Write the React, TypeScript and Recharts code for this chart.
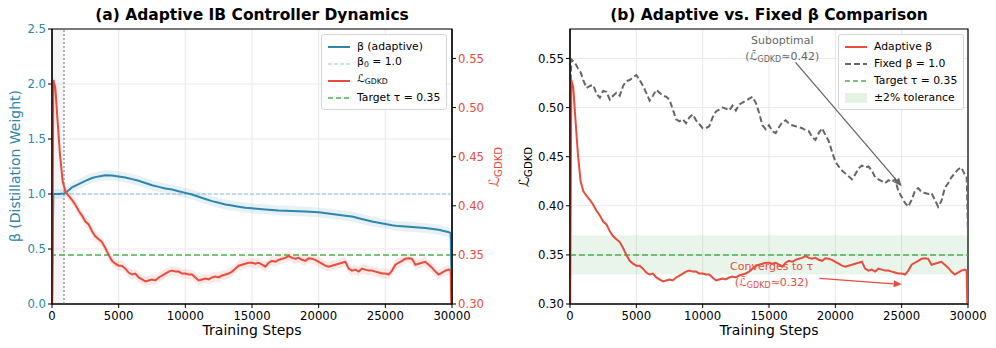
import React from 'react';
import {
  ComposedChart, Line, Area, XAxis, YAxis, CartesianGrid,
  ReferenceLine, ReferenceArea, ReferenceDot, Legend,
} from 'recharts';

const BLUE = '#2E86AB';
const RED = '#E74C3C';
const GREEN = '#4CAF50';
const GRAY = '#666666';
const LIGHTBLUE = '#8EC3DE';
const FONT = '"DejaVu Sans", Verdana, sans-serif';

const xTicks = [0, 5000, 10000, 15000, 20000, 25000, 30000];
const betaTicks = [0, 0.5, 1.0, 1.5, 2.0, 2.5];
const lossTicks = [0.30, 0.35, 0.40, 0.45, 0.50, 0.55];

const betaSteps = [0, 100, 500, 900, 1200, 1500, 2000, 2500, 3000, 3500, 4000, 4500, 5000, 5500, 6000, 6500, 7000, 7500, 8000, 8500, 9000, 9500, 10000, 10500, 11000, 11500, 12000, 12500, 13000, 13500, 14000, 14500, 15000, 16000, 17000, 18000, 19000, 20000, 21000, 22000, 22500, 23000, 24000, 25000, 25500, 26000, 27000, 28000, 29000, 29700, 29900, 30000];
const betaValues = [0, 1.0, 1.0, 1.005, 1.03, 1.06, 1.09, 1.12, 1.145, 1.16, 1.17, 1.168, 1.16, 1.15, 1.135, 1.12, 1.10, 1.08, 1.065, 1.05, 1.04, 1.025, 1.01, 0.995, 0.975, 0.955, 0.935, 0.92, 0.905, 0.895, 0.885, 0.875, 0.87, 0.86, 0.85, 0.845, 0.84, 0.833, 0.818, 0.803, 0.795, 0.78, 0.75, 0.727, 0.715, 0.708, 0.70, 0.69, 0.675, 0.655, 0.645, 0.0];

const lossSteps = [0, 100, 250, 400, 600, 800,
  1000, 1250, 1500, 1750, 2000, 2250, 2500, 2750, 3000, 3250, 3500, 3750, 4000, 4250, 4500, 4750,
  5000, 5250, 5500, 5750, 6000, 6250, 6500, 6750, 7000, 7250, 7500, 7750, 8000, 8250, 8500, 8750,
  9000, 9250, 9500, 9750, 10000, 10250, 10500, 10750, 11000, 11250, 11500, 11750, 12000, 12250, 12500, 12750,
  13000, 13250, 13500, 13750, 14000, 14250, 14500, 14750, 15000, 15250, 15500, 15750, 16000, 16250, 16500, 16750,
  17000, 17250, 17500, 17750, 18000, 18250, 18500, 18750, 19000, 19250, 19500, 19750, 20000, 20250, 20500, 20750,
  21000, 21250, 21500, 21750, 22000, 22250, 22500, 22750, 23000, 23250, 23500, 23750, 24000, 24250, 24500, 24750,
  25000, 25250, 25500, 25750, 26000, 26250, 26500, 26750, 27000, 27250, 27500, 27750, 28000, 28250, 28500, 28750,
  29000, 29250, 29500, 29750, 29900, 30000];

const adaptiveLoss = [0.26, 0.528, 0.52, 0.49, 0.452, 0.425,
  0.415, 0.410, 0.406, 0.401, 0.395, 0.390, 0.384, 0.381, 0.374, 0.369, 0.366, 0.363, 0.357, 0.350, 0.344, 0.341,
  0.339, 0.339, 0.336, 0.332, 0.330, 0.331, 0.327, 0.325, 0.323, 0.324, 0.325, 0.324, 0.327, 0.329, 0.331, 0.333,
  0.334, 0.333, 0.333, 0.331, 0.331, 0.330, 0.330, 0.327, 0.324, 0.325, 0.326, 0.325, 0.327, 0.328, 0.327, 0.329,
  0.330, 0.331, 0.333, 0.336, 0.339, 0.340, 0.341, 0.342, 0.342, 0.341, 0.342, 0.340, 0.338, 0.342, 0.344, 0.343,
  0.345, 0.346, 0.347, 0.349, 0.347, 0.346, 0.347, 0.345, 0.344, 0.3465, 0.346, 0.345, 0.343, 0.341, 0.339, 0.338,
  0.339, 0.340, 0.341, 0.342, 0.343, 0.336, 0.334, 0.335, 0.333, 0.336, 0.335, 0.334, 0.334, 0.333, 0.332, 0.331,
  0.331, 0.330, 0.334, 0.340, 0.342, 0.344, 0.346, 0.3465, 0.346, 0.340, 0.341, 0.342, 0.343, 0.340, 0.337, 0.333,
  0.330, 0.332, 0.334, 0.335, 0.334, 0.26];

const fixedLoss = [0.50, 0.549, 0.547, 0.545, 0.540, 0.536,
  0.528, 0.520, 0.522, 0.523, 0.514, 0.510, 0.517, 0.516, 0.508, 0.512, 0.515, 0.512, 0.522, 0.527, 0.528, 0.531,
  0.533, 0.528, 0.522, 0.515, 0.507, 0.512, 0.518, 0.515, 0.512, 0.511, 0.508, 0.498, 0.488, 0.486, 0.488, 0.484,
  0.490, 0.493, 0.487, 0.483, 0.479, 0.479, 0.481, 0.490, 0.496, 0.498, 0.500, 0.499, 0.497, 0.502, 0.497, 0.503,
  0.505, 0.507, 0.509, 0.511, 0.505, 0.495, 0.482, 0.478, 0.482, 0.476, 0.474, 0.480, 0.485, 0.487, 0.484, 0.482,
  0.481, 0.480, 0.479, 0.477, 0.476, 0.470, 0.467, 0.474, 0.479, 0.472, 0.466, 0.455, 0.445, 0.440, 0.436, 0.433,
  0.430, 0.427, 0.432, 0.438, 0.441, 0.439, 0.440, 0.436, 0.429, 0.427, 0.425, 0.423, 0.426, 0.424, 0.427, 0.415,
  0.409, 0.403, 0.399, 0.406, 0.415, 0.418, 0.414, 0.413, 0.412, 0.413, 0.406, 0.399, 0.405, 0.418, 0.423, 0.429,
  0.433, 0.437, 0.439, 0.432, 0.430, 0.37];

const BETA_BAND = 0.045;
const LOSS_BAND = 0.005;
const WARMUP_END = 900;

const betaData = betaSteps.map((s, i) => ({
  step: s, beta: betaValues[i], band: [betaValues[i] - BETA_BAND, betaValues[i] + BETA_BAND],
}));
const lossData = lossSteps.map((s, i) => ({
  step: s, loss: adaptiveLoss[i], band: [adaptiveLoss[i] - LOSS_BAND, adaptiveLoss[i] + LOSS_BAND],
}));
const fixedData = lossSteps.map((s, i) => ({ step: s, fixed: fixedLoss[i] }));

const LGDKD = ({ sub = 0.72 }: { sub?: number }) => (
  <span>ℒ<span style={{ fontSize: `${sub}em`, verticalAlign: '-0.3em' }}>GDKD</span></span>
);

type LegendItem = { label: React.ReactNode; color: string; dash?: string; width?: number; patch?: boolean };

const leftLegend: LegendItem[] = [
  { label: 'β (adaptive)', color: BLUE, width: 2 },
  { label: <span>β<span style={{ fontSize: '0.72em', verticalAlign: '-0.3em' }}>0</span> = 1.0</span>, color: LIGHTBLUE, dash: '4 2', width: 1.2 },
  { label: <LGDKD />, color: RED, width: 2 },
  { label: 'Target τ = 0.35', color: GREEN, dash: '5 3', width: 1.6 },
];
const rightLegend: LegendItem[] = [
  { label: 'Adaptive β', color: RED, width: 2 },
  { label: 'Fixed β = 1.0', color: GRAY, dash: '6 3', width: 2 },
  { label: 'Target τ = 0.35', color: GREEN, dash: '5 3', width: 1.6 },
  { label: '±2% tolerance', color: GREEN, patch: true },
];

const LegendBox = ({ items }: { items: LegendItem[] }) => (
  <div style={{
    border: '1px solid #d5d5d5', borderRadius: 3, background: 'rgba(255,255,255,0.85)',
    padding: '3px 6px 3px 6px', fontFamily: FONT, fontSize: 10.8, color: '#000', lineHeight: '17px',
  }}>
    {items.map((it, i) => (
      <div key={i} style={{ display: 'flex', alignItems: 'center', height: 17 }}>
        <svg width={22} height={10} style={{ marginRight: 7, flex: 'none' }}>
          {it.patch
            ? <rect x={0} y={0} width={22} height={10} fill={it.color} fillOpacity={0.15} />
            : <line x1={0} y1={5} x2={22} y2={5} stroke={it.color} strokeWidth={it.width} strokeDasharray={it.dash} />}
        </svg>
        <span style={{ whiteSpace: 'nowrap' }}>{it.label}</span>
      </div>
    ))}
  </div>
);

const makeArrow = (color: string, width: number) => (p: any) => {
  const { x1, y1, x2, y2 } = p;
  const a = Math.atan2(y2 - y1, x2 - x1);
  const L = 8, W = 3.5;
  const bx = x2 - L * Math.cos(a), by = y2 - L * Math.sin(a);
  const pts = `${x2},${y2} ${bx + W * Math.sin(a)},${by - W * Math.cos(a)} ${bx - W * Math.sin(a)},${by + W * Math.cos(a)}`;
  return (
    <g>
      <line x1={x1} y1={y1} x2={bx} y2={by} stroke={color} strokeWidth={width} />
      <polygon points={pts} fill={color} />
    </g>
  );
};

const makeNote = (first: string, val: string, color: string) => (p: any) => {
  const { cx, cy } = p;
  return (
    <g fontFamily={FONT} fontSize={11} fill={color}>
      <text x={cx} y={cy - 8} textAnchor="middle" dominantBaseline="central">{first}</text>
      <text x={cx} y={cy + 8} textAnchor="middle" dominantBaseline="central">
        <tspan>(ℒ̄</tspan>
        <tspan fontSize={8} dy={3}>GDKD</tspan>
        <tspan dy={-3}>{`≈${val})`}</tspan>
      </text>
    </g>
  );
};

const Txt = ({ x, y, rotate = 0, style, children }: any) => (
  <div style={{
    position: 'absolute', left: x, top: y, whiteSpace: 'nowrap',
    transform: `translate(-50%, -50%) rotate(${rotate}deg)`, fontFamily: FONT, ...style,
  }}>{children}</div>
);

const tickStyle = (fill: string) => ({ fontSize: 11.7, fill, fontFamily: FONT });

export default function App() {
  return (
    <div style={{ position: 'absolute', left: 0, top: 0, width: 996, height: 348, background: '#fff', fontFamily: FONT }}>
      <div style={{ position: 'absolute', left: 0, top: 0 }}>
        <ComposedChart width={512} height={348} margin={{ top: 29, right: 0, bottom: 14, left: 0 }}>
          <CartesianGrid stroke="#e8e8e8" yAxisId="left" />
          <XAxis dataKey="step" type="number" domain={[0, 30000]} ticks={xTicks} allowDataOverflow
            tick={tickStyle('#000')} tickLine={{ stroke: '#000' }} axisLine={{ stroke: '#000', strokeWidth: 1.2 }}
            tickSize={4} tickMargin={4} height={30} />
          <YAxis yAxisId="left" domain={[0, 2.5]} ticks={betaTicks} allowDataOverflow width={52}
            tickFormatter={(v: number) => v.toFixed(1)} tick={tickStyle(BLUE)}
            tickLine={{ stroke: '#000' }} axisLine={{ stroke: '#000', strokeWidth: 1.2 }} tickSize={4} />
          <YAxis yAxisId="right" orientation="right" domain={[0.3, 0.58]} ticks={lossTicks} allowDataOverflow width={60}
            tickFormatter={(v: number) => v.toFixed(2)} tick={tickStyle(RED)}
            tickLine={{ stroke: '#000' }} axisLine={{ stroke: '#000', strokeWidth: 1.2 }} tickSize={4} />
          <ReferenceArea yAxisId="left" x1={0} x2={WARMUP_END} y1={0} y2={2.5} fill="#999" fillOpacity={0.1} stroke="none" />
          <ReferenceLine yAxisId="left" x={WARMUP_END} stroke="#aaa" strokeWidth={1.8} strokeDasharray="2 2" />
          <ReferenceLine yAxisId="left" y={1.0} stroke={LIGHTBLUE} strokeWidth={1} strokeDasharray="4 2" />
          <ReferenceLine yAxisId="right" y={0.35} stroke={GREEN} strokeWidth={1.5} strokeDasharray="6 3" />
          <Area yAxisId="left" data={betaData} dataKey="band" stroke="none" fill={BLUE} fillOpacity={0.12} isAnimationActive={false} />
          <Area yAxisId="right" data={lossData} dataKey="band" stroke="none" fill={RED} fillOpacity={0.12} isAnimationActive={false} />
          <Line yAxisId="left" data={betaData} dataKey="beta" stroke={BLUE} strokeWidth={2} dot={false} isAnimationActive={false} />
          <Line yAxisId="right" data={lossData} dataKey="loss" stroke={RED} strokeWidth={2} dot={false} isAnimationActive={false} />
          <ReferenceArea yAxisId="left" x1={0} x2={30000} y1={0} y2={2.5} fill="none" stroke="#000" strokeWidth={1.2} ifOverflow="visible" />
          <Legend layout="vertical" align="center" verticalAlign="middle"
            wrapperStyle={{ left: 321, top: 34, width: 'auto', height: 'auto' }}
            content={() => <LegendBox items={leftLegend} />} />
        </ComposedChart>
      </div>
      <div style={{ position: 'absolute', left: 520, top: 0 }}>
        <ComposedChart width={476} height={348} margin={{ top: 29, right: 28, bottom: 14, left: 0 }}>
          <CartesianGrid stroke="#e8e8e8" />
          <XAxis dataKey="step" type="number" domain={[0, 30000]} ticks={xTicks} allowDataOverflow
            tick={tickStyle('#000')} tickLine={{ stroke: '#000' }} axisLine={{ stroke: '#000', strokeWidth: 1.2 }}
            tickSize={4} tickMargin={4} height={30} />
          <YAxis domain={[0.3, 0.58]} ticks={lossTicks} allowDataOverflow width={50}
            tickFormatter={(v: number) => v.toFixed(2)} tick={tickStyle('#000')}
            tickLine={{ stroke: '#000' }} axisLine={{ stroke: '#000', strokeWidth: 1.2 }} tickSize={4} />
          <ReferenceArea x1={0} x2={30000} y1={0.33} y2={0.37} fill={GREEN} fillOpacity={0.12} stroke="none" />
          <ReferenceLine y={0.35} stroke={GREEN} strokeWidth={1.5} strokeDasharray="6 3" />
          <Line data={fixedData} dataKey="fixed" stroke={GRAY} strokeWidth={2} strokeDasharray="6 3" dot={false} isAnimationActive={false} />
          <Line data={lossData} dataKey="loss" stroke={RED} strokeWidth={2} dot={false} isAnimationActive={false} />
          <ReferenceLine segment={[{ x: 17000, y: 0.546 }, { x: 25000, y: 0.42 }]} shape={makeArrow(GRAY, 1.3)} ifOverflow="visible" />
          <ReferenceLine segment={[{ x: 18800, y: 0.326 }, { x: 25000, y: 0.32 }]} shape={makeArrow(RED, 1.3)} ifOverflow="visible" />
          <ReferenceDot x={16000} y={0.5605} r={0} shape={makeNote('Suboptimal', '0.42', GRAY)} ifOverflow="visible" />
          <ReferenceDot x={15200} y={0.3305} r={0} shape={makeNote('Converges to τ', '0.32', RED)} ifOverflow="visible" />
          <ReferenceArea x1={0} x2={30000} y1={0.3} y2={0.58} fill="none" stroke="#000" strokeWidth={1.2} ifOverflow="visible" />
          <Legend layout="vertical" align="center" verticalAlign="middle"
            wrapperStyle={{ left: 318, top: 34, width: 'auto', height: 'auto' }}
            content={() => <LegendBox items={rightLegend} />} />
        </ComposedChart>
      </div>
      <Txt x={252} y={15} style={{ fontWeight: 'bold', fontSize: 15.5 }}>(a) Adaptive IB Controller Dynamics</Txt>
      <Txt x={769} y={15} style={{ fontWeight: 'bold', fontSize: 15.5 }}>(b) Adaptive vs. Fixed β Comparison</Txt>
      <Txt x={252} y={330} style={{ fontSize: 14 }}>Training Steps</Txt>
      <Txt x={769} y={330} style={{ fontSize: 14 }}>Training Steps</Txt>
      <Txt x={15} y={166} rotate={-90} style={{ fontSize: 14, color: BLUE }}>β (Distillation Weight)</Txt>
      <Txt x={495} y={167} rotate={-90} style={{ fontSize: 14, color: RED }}><LGDKD /></Txt>
      <Txt x={525} y={167} rotate={-90} style={{ fontSize: 14, color: '#000' }}><LGDKD /></Txt>
    </div>
  );
}
